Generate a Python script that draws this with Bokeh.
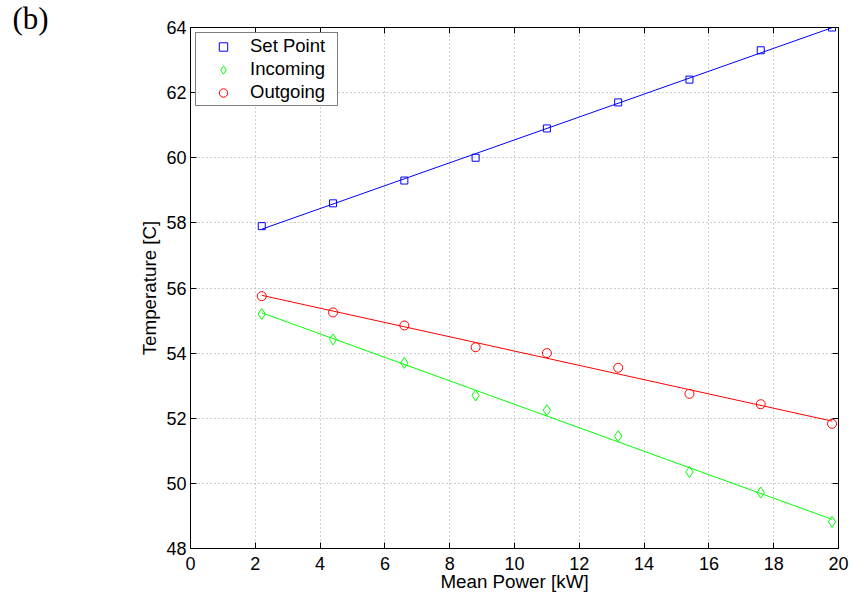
import numpy as np
from bokeh.plotting import figure
from bokeh.models import (LinearAxis, Range1d, FixedTicker, Legend, LegendItem, Title)
from bokeh.embed import file_html
from bokeh.resources import INLINE

power = [2.2, 4.4, 6.6, 8.8, 11.0, 13.2, 15.4, 17.6, 19.8]
set_point = [57.9, 58.6, 59.3, 60.0, 60.9, 61.7, 62.4, 63.3, 64.0]
incoming = [55.2, 54.42, 53.7, 52.7, 52.25, 51.45, 50.35, 49.72, 48.82]
outgoing = [55.75, 55.25, 54.85, 54.18, 54.0, 53.55, 52.75, 52.43, 51.83]
x_ticks = [0, 2, 4, 6, 8, 10, 12, 14, 16, 18, 20]
y_ticks = [48, 50, 52, 54, 56, 58, 60, 62, 64]

FONT = "Liberation Sans"

p = figure(width=855, height=597, output_backend="svg", toolbar_location=None,
           x_range=Range1d(0, 20), y_range=Range1d(48, 64),
           min_border_left=190, min_border_right=17, min_border_top=27, min_border_bottom=49)
p.outline_line_color = "black"
p.outline_line_width = 1

def style_axis(ax, ticks, show_labels=True):
    ax.ticker = FixedTicker(ticks=ticks)
    ax.major_tick_in = 6
    ax.major_tick_out = 0
    ax.minor_tick_in = 0
    ax.minor_tick_out = 0
    ax.axis_line_color = "black"
    ax.major_tick_line_color = "black"
    ax.major_label_text_font = FONT
    ax.major_label_text_font_size = "18px"
    ax.major_label_text_color = "black"
    ax.axis_label_text_font = FONT
    ax.axis_label_text_font_size = "18.8px"
    ax.axis_label_text_font_style = "normal"
    ax.axis_label_text_color = "black"
    if not show_labels:
        ax.major_label_overrides = {t: "" for t in ticks}
        ax.major_label_standoff = 0

style_axis(p.xaxis[0], x_ticks)
style_axis(p.yaxis[0], y_ticks)
p.xaxis.axis_label = "Mean Power [kW]"
p.yaxis.axis_label = "Temperature [C]"
p.xaxis.major_label_standoff = 8
p.yaxis.major_label_standoff = 4
p.xaxis.axis_label_standoff = -2
p.yaxis.axis_label_standoff = 3

top = LinearAxis()
right = LinearAxis()
style_axis(top, x_ticks, False)
style_axis(right, y_ticks, False)
p.add_layout(top, "above")
p.add_layout(right, "right")

p.xgrid[0].ticker = FixedTicker(ticks=x_ticks)
p.ygrid[0].ticker = FixedTicker(ticks=y_ticks)
for g in (p.xgrid[0], p.ygrid[0]):
    g.grid_line_color = "#9a9a9a"
    g.grid_line_dash = "1 3"
    g.grid_line_width = 1

series = [("Set Point", set_point, "#0000ff", "square", 7),
          ("Incoming", incoming, "#00ff00", "diamond", 11),
          ("Outgoing", outgoing, "#ff0000", "circle", 9)]
items = []
xs = np.array(power)
for name, ys, col, marker, size in series:
    k, b = np.polyfit(xs, np.array(ys), 1)
    p.line([xs[0], xs[-1]], [k * xs[0] + b, k * xs[-1] + b], line_color=col, line_width=1)
    r = p.scatter(power, ys, marker=marker, size=size, fill_color=None, line_color=col, line_width=1)
    items.append(LegendItem(label=name, renderers=[r]))

legend = Legend(items=items, location="top_left", border_line_color="black",
                border_line_width=1.3, label_text_font=FONT, label_text_font_size="18.5px",
                label_text_color="black",
                spacing=1, padding=2, margin=5, glyph_width=50, label_standoff=2,
                label_height=21, glyph_height=21, label_width=85)
p.add_layout(legend)

t = Title(text="(b)", align="left", offset=-178, standoff=-17,
          text_font="Liberation Serif", text_font_size="31px",
          text_font_style="normal", text_color="black")
p.add_layout(t, "above")

open("out.html", "w").write(file_html(p, INLINE))
